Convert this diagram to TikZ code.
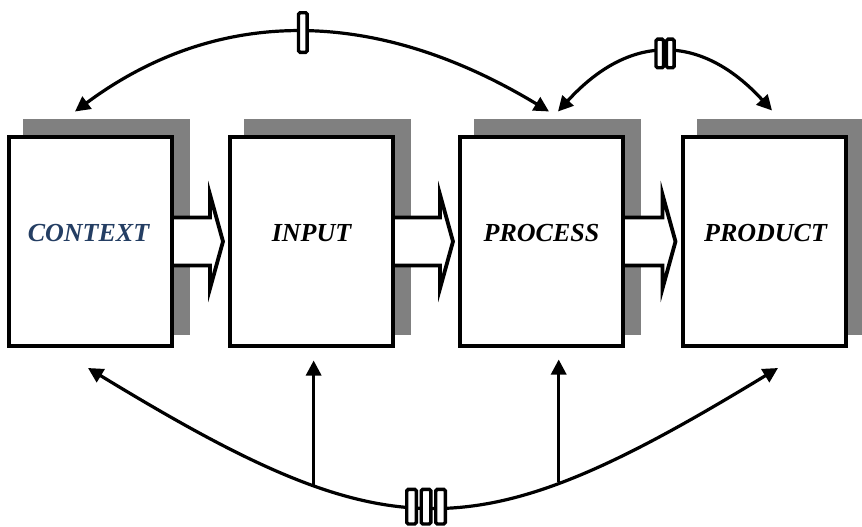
\documentclass[tikz,border=0pt]{standalone}
\usepackage{fontspec}
\setmainfont{Liberation Serif}
\usetikzlibrary{arrows.meta,calc,backgrounds}
\definecolor{ctxblue}{RGB}{36,62,99}
\definecolor{shadowgray}{RGB}{128,128,128}
\tikzset{
  box/.style={draw=black, line width=4pt, fill=white, minimum width=163pt,
    minimum height=209pt, inner sep=0pt, outer sep=0pt},
  boxtext/.style={font=\bfseries\itshape\fontsize{26}{30}\selectfont, inner sep=0pt, anchor=base},
  blockarr/.style={draw=black, fill=white, line width=3.8pt, line join=miter},
  conn/.style={line width=3.2pt, {Triangle[length=15pt,width=15pt]}-{Triangle[length=15pt,width=15pt]}},
  uparr/.style={line width=3.2pt, -{Triangle[length=15pt,width=15pt]}},
  mkbar/.style={draw=black, fill=white, line width=3.4pt, rounded corners=1.5pt,
    inner sep=0pt, minimum width=8.6pt, minimum height=39.6pt},
  mkbartwo/.style={mkbar, minimum width=7.6pt, minimum height=28.6pt},
  mkbarthree/.style={mkbar, minimum width=9.6pt, minimum height=34.6pt},
  shadowbox/.style={fill=shadowgray}
}
\newcommand{\drawblockarrow}[2]{%
  \draw[blockarr] ($(#1.east)+(0,-24)$) -- ($(#2.west |- #1.east)+(-20,-24)$)
    -- ($(#2.west |- #1.east)+(-20,-47)$) -- ($(#2.west |- #1.east)+(-7,0)$)
    -- ($(#2.west |- #1.east)+(-20,47)$) -- ($(#2.west |- #1.east)+(-20,24)$)
    -- ($(#1.east)+(0,24)$) -- cycle;}
\newcommand{\drawboxshadow}[1]{%
  \fill[shadowbox] ([shift={(14,-18.5)}]#1.north west) rectangle ([shift={(17.5,-11.5)}]#1.south east);}
\begin{document}
\begin{tikzpicture}[x=1pt,y=-1pt]
\useasboundingbox (0,0) rectangle (862,527);
\node[box] (context) at (90.5,241.5) {};
\node[box] (input) at (311.5,241.5) {};
\node[box] (process) at (541.5,241.5) {};
\node[box] (product) at (764,241.5) {};
\begin{pgfonlayer}{background}
  \drawboxshadow{context}
  \drawboxshadow{input}
  \drawboxshadow{process}
  \drawboxshadow{product}
\end{pgfonlayer}
\node[boxtext, text=ctxblue, xshift=-2pt] (tcontext) at (context.center) {CONTEXT};
\node[boxtext] (tinput) at (input.center) {INPUT};
\node[boxtext] (tprocess) at (process.center) {PROCESS};
\node[boxtext, xshift=1.5pt] (tproduct) at (product.center) {PRODUCT};
\drawblockarrow{context}{input}
\drawblockarrow{input}{process}
\drawblockarrow{process}{product}
% top arc CONTEXT <-> PROCESS
\draw[conn] ([shift={(-15.5,-25.5)}]context.north) .. controls +(142,-105.3) and +(-174,-105.3) ..
  ([shift={(7.5,-25.5)}]process.north) node[mkbar, pos=0.506] (m1) {};
% top arc PROCESS <-> PRODUCT
\draw[conn] ([shift={(16.5,-25.5)}]process.north) .. controls +(71.3,-78.3) and +(-71.3,-77.7) ..
  ([shift={(8,-26.5)}]product.north)
  node[mkbartwo, pos=0.5, xshift=-5.25pt, yshift=-1pt] (m2a) {}
  node[mkbartwo, pos=0.5, xshift=5.25pt, yshift=-1pt] (m2b) {};
% bottom arc CONTEXT <-> PRODUCT
\draw[conn] ([shift={(-2.5,22)}]context.south) .. controls +(304,185) and +(-304,185) ..
  ([shift={(14,22)}]product.south)
  coordinate[pos=0.3] (b1) coordinate[pos=0.71] (b2)
  node[mkbarthree, pos=0.488, xshift=-14.5pt] (m3a) {}
  node[mkbarthree, pos=0.488] (m3b) {}
  node[mkbarthree, pos=0.488, xshift=14.5pt] (m3c) {};
\draw[uparr] (b1) -- ($(b1 |- input.south)+(0,14.5)$);
\draw[uparr] (b2) -- ($(b2 |- process.south)+(0,13.5)$);
\end{tikzpicture}
\end{document}
